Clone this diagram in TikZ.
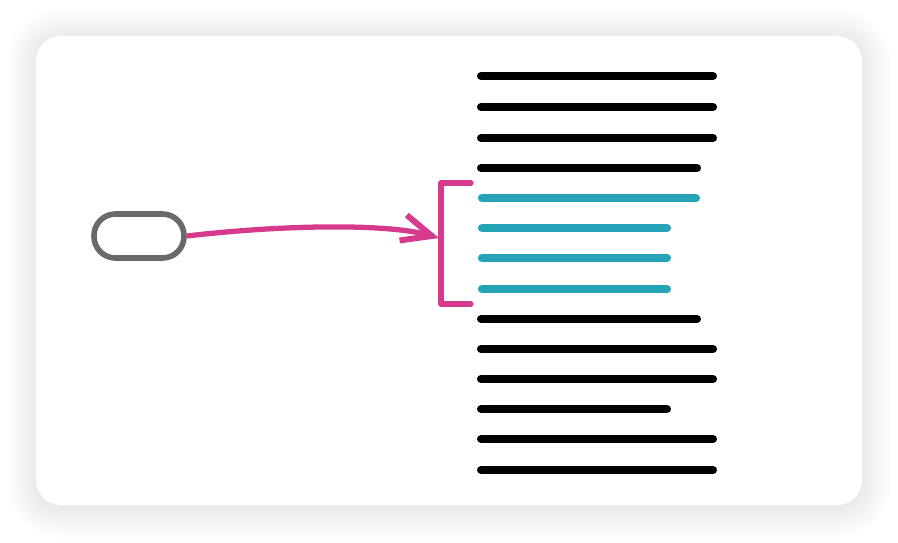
\documentclass[tikz,border=0pt]{standalone}
\usetikzlibrary{arrows.meta}

\definecolor{pinkline}{RGB}{214,58,140}
\definecolor{tealline}{RGB}{36,164,182}
\definecolor{ovalgray}{RGB}{105,105,105}

\begin{document}
\begin{tikzpicture}[
        x=0.02cm, y=-0.02cm,
        textline/.style={line width=4.6pt, line cap=round},
        pinkpath/.style={pinkline, line width=3pt},
        ]
        \useasboundingbox (0,0) rectangle (898,542);
        \fill[white] (0,0) rectangle (898,542);

        % Soft shadow round the card
        \foreach \i in {1,...,20}
            \fill[black, opacity=0.0045, rounded corners=0.5cm+\i*0.03cm]
                (36-1.5*\i,38-1.5*\i) rectangle (862+1.5*\i,508+1.5*\i);

        % Card
        \fill[white, rounded corners=0.5cm] (36,36) rectangle (862,505);

        % Lines of text
        \foreach \y/\xe in {76/713, 107/713, 138/713, 168/697, 319/697, 349/713, 379/713, 409/667, 439/713, 470/713}
            \draw[textline, black] (481,\y) -- (\xe,\y);
        \foreach \y/\xe in {198/696, 228/667, 258/667, 289/667}
            \draw[textline, tealline] (482,\y) -- (\xe,\y);

        % Bracket round the picked lines
        \draw[pinkpath, line cap=round, line join=round]
            (471,183) -- (441,183) -- (441,304) -- (471,304);
        \coordinate (target) at (439,238);

        % Oval and arrow
        \node[draw=ovalgray, line width=3.2pt, rounded corners=0.43cm,
              minimum width=1.8cm, minimum height=0.88cm, inner sep=0pt] (oval) at (139,236) {};
        \draw[pinkpath, -{Straight Barb[length=17pt, width=15pt, line width=3.4pt]}]
            (oval.east) .. controls (290,224) and (390,224) .. (target);

    \end{tikzpicture}
\end{document}
